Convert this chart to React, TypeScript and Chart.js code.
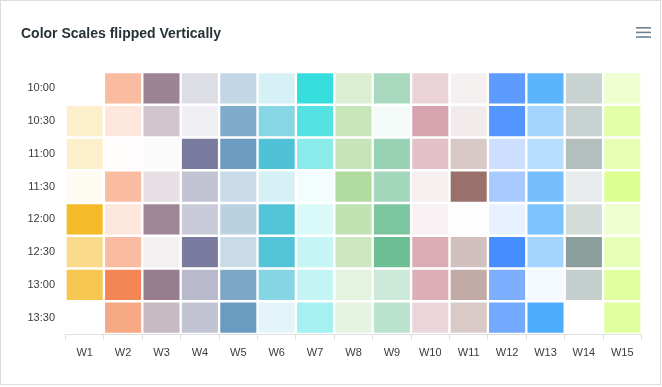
import React, { useEffect, useRef } from 'react';
import { Chart, registerables } from 'chart.js';

Chart.register(...registerables);

const times = ['10:00', '10:30', '11:00', '11:30', '12:00', '12:30', '13:00', '13:30'];
const weeks = ['W1', 'W2', 'W3', 'W4', 'W5', 'W6', 'W7', 'W8', 'W9', 'W10', 'W11', 'W12', 'W13', 'W14', 'W15'];
const weekColors = [
  '#F3B415', '#F27036', '#663F59', '#6A6E94', '#4E88B4', '#00A7C6', '#18D8D8', '#A9D794',
  '#46AF78', '#A93F55', '#8C5E58', '#2176FF', '#33A1FD', '#7A918D', '#BAFF29',
];

// Values per week, in time order 10:00 .. 13:30 (intensity 0..100)
const W1 = [0, 22, 22, 5, 92, 50, 75, 0];
const W2 = [47, 17, 2, 47, 17, 47, 85, 60];
const W3 = [64, 30, 2, 16, 63, 8, 68, 36];
const W4 = [23, 10, 90, 41, 36, 90, 48, 41];
const W5 = [34, 71, 83, 30, 39, 30, 74, 84];
const W6 = [16, 47, 69, 16, 67, 67, 48, 11];
const W7 = [87, 74, 50, 5, 16, 25, 26, 39];
const W8 = [42, 66, 67, 90, 72, 58, 31, 29];
const W9 = [47, 6, 55, 49, 71, 80, 27, 37];
const W10 = [23, 48, 32, 9, 8, 43, 42, 22];
const W11 = [9, 12, 34, 89, 1, 39, 53, 33];
const W12 = [73, 77, 23, 39, 10, 83, 58, 63];
const W13 = [80, 45, 35, 68, 64, 45, 6, 87];
const W14 = [41, 41, 58, 17, 32, 88, 44, 0];
const W15 = [22, 42, 35, 50, 22, 34, 45, 45];
const weekValues = [W1, W2, W3, W4, W5, W6, W7, W8, W9, W10, W11, W12, W13, W14, W15];

function hexToRgba(hex: string, a: number): string {
  const h = hex.replace('#', '');
  const r = parseInt(h.slice(0, 2), 16);
  const g = parseInt(h.slice(2, 4), 16);
  const b = parseInt(h.slice(4, 6), 16);
  return `rgba(${r},${g},${b},${a})`;
}

const FONT = '"Liberation Sans", Helvetica, Arial, sans-serif';

export default function App() {
  const ref = useRef<HTMLCanvasElement>(null);

  useEffect(() => {
    document.body.style.margin = '0';
    const canvas = ref.current;
    if (!canvas) return;
    const datasets = times.map((t, r) => ({
      label: t,
      data: weeks.map(() => [r, r + 1]),
      backgroundColor: weeks.map((_, c) => hexToRgba(weekColors[c], weekValues[c][r] / 100)),
      borderColor: '#ffffff',
      borderWidth: 1.5,
      borderSkipped: false,
      grouped: false,
      barPercentage: 1,
      categoryPercentage: 1,
    }));
    const tickFont = { family: FONT, size: 11 };
    const chart = new Chart(canvas, {
      type: 'bar',
      data: { labels: weeks, datasets: datasets as any },
      options: {
        animation: false,
        responsive: false,
        layout: { padding: { left: 21, right: 20.5, top: 72, bottom: 0 } },
        plugins: {
          legend: { display: false },
          tooltip: { enabled: false },
          title: { display: false },
        },
        scales: {
          x: {
            type: 'category',
            offset: true,
            grid: { offset: true, drawOnChartArea: false, drawTicks: true, tickLength: 6, color: '#e0e0e0' },
            border: { display: true, color: '#e0e0e0' },
            ticks: { font: tickFont, color: '#373d3f', padding: 6, maxRotation: 0, autoSkip: false },
            afterFit: (s: any) => { s.height = 53; },
          },
          y: {
            type: 'linear',
            min: 0,
            max: 8,
            reverse: true,
            grid: { display: false, drawTicks: false },
            border: { display: false },
            afterBuildTicks: (s: any) => { s.ticks = times.map((_, i) => ({ value: i + 0.5 })); },
            ticks: {
              callback: (_v: any, i: number) => times[i],
              padding: 10.5,
              font: tickFont,
              color: '#373d3f',
              autoSkip: false,
            },
            afterFit: (s: any) => { s.width = 44.5; },
          },
        },
      } as any,
    });
    return () => chart.destroy();
  }, []);

  return (
    <div style={{ position: 'relative', width: 662, height: 387, background: '#fff' }}>
      <canvas ref={ref} width={662} height={387} style={{ position: 'absolute', left: 0, top: 0, width: 662, height: 387 }} />
      <div style={{ position: 'absolute', left: 0, top: 0, width: 661, height: 385, border: '1px solid #dddddd', boxSizing: 'border-box', pointerEvents: 'none' }} />
      <div style={{ position: 'absolute', left: 21, top: 25, fontFamily: FONT, fontWeight: 'bold', fontSize: 14, lineHeight: '16px', color: '#263238', whiteSpace: 'nowrap' }}>
        Color Scales flipped Vertically
      </div>
      <svg width={16} height={14} style={{ position: 'absolute', left: 636, top: 26 }}>
        <rect x={0} y={1} width={15} height={1.6} fill="#6E8192" />
        <rect x={0} y={5.6} width={15} height={1.6} fill="#6E8192" />
        <rect x={0} y={10.2} width={15} height={1.6} fill="#6E8192" />
      </svg>
    </div>
  );
}
